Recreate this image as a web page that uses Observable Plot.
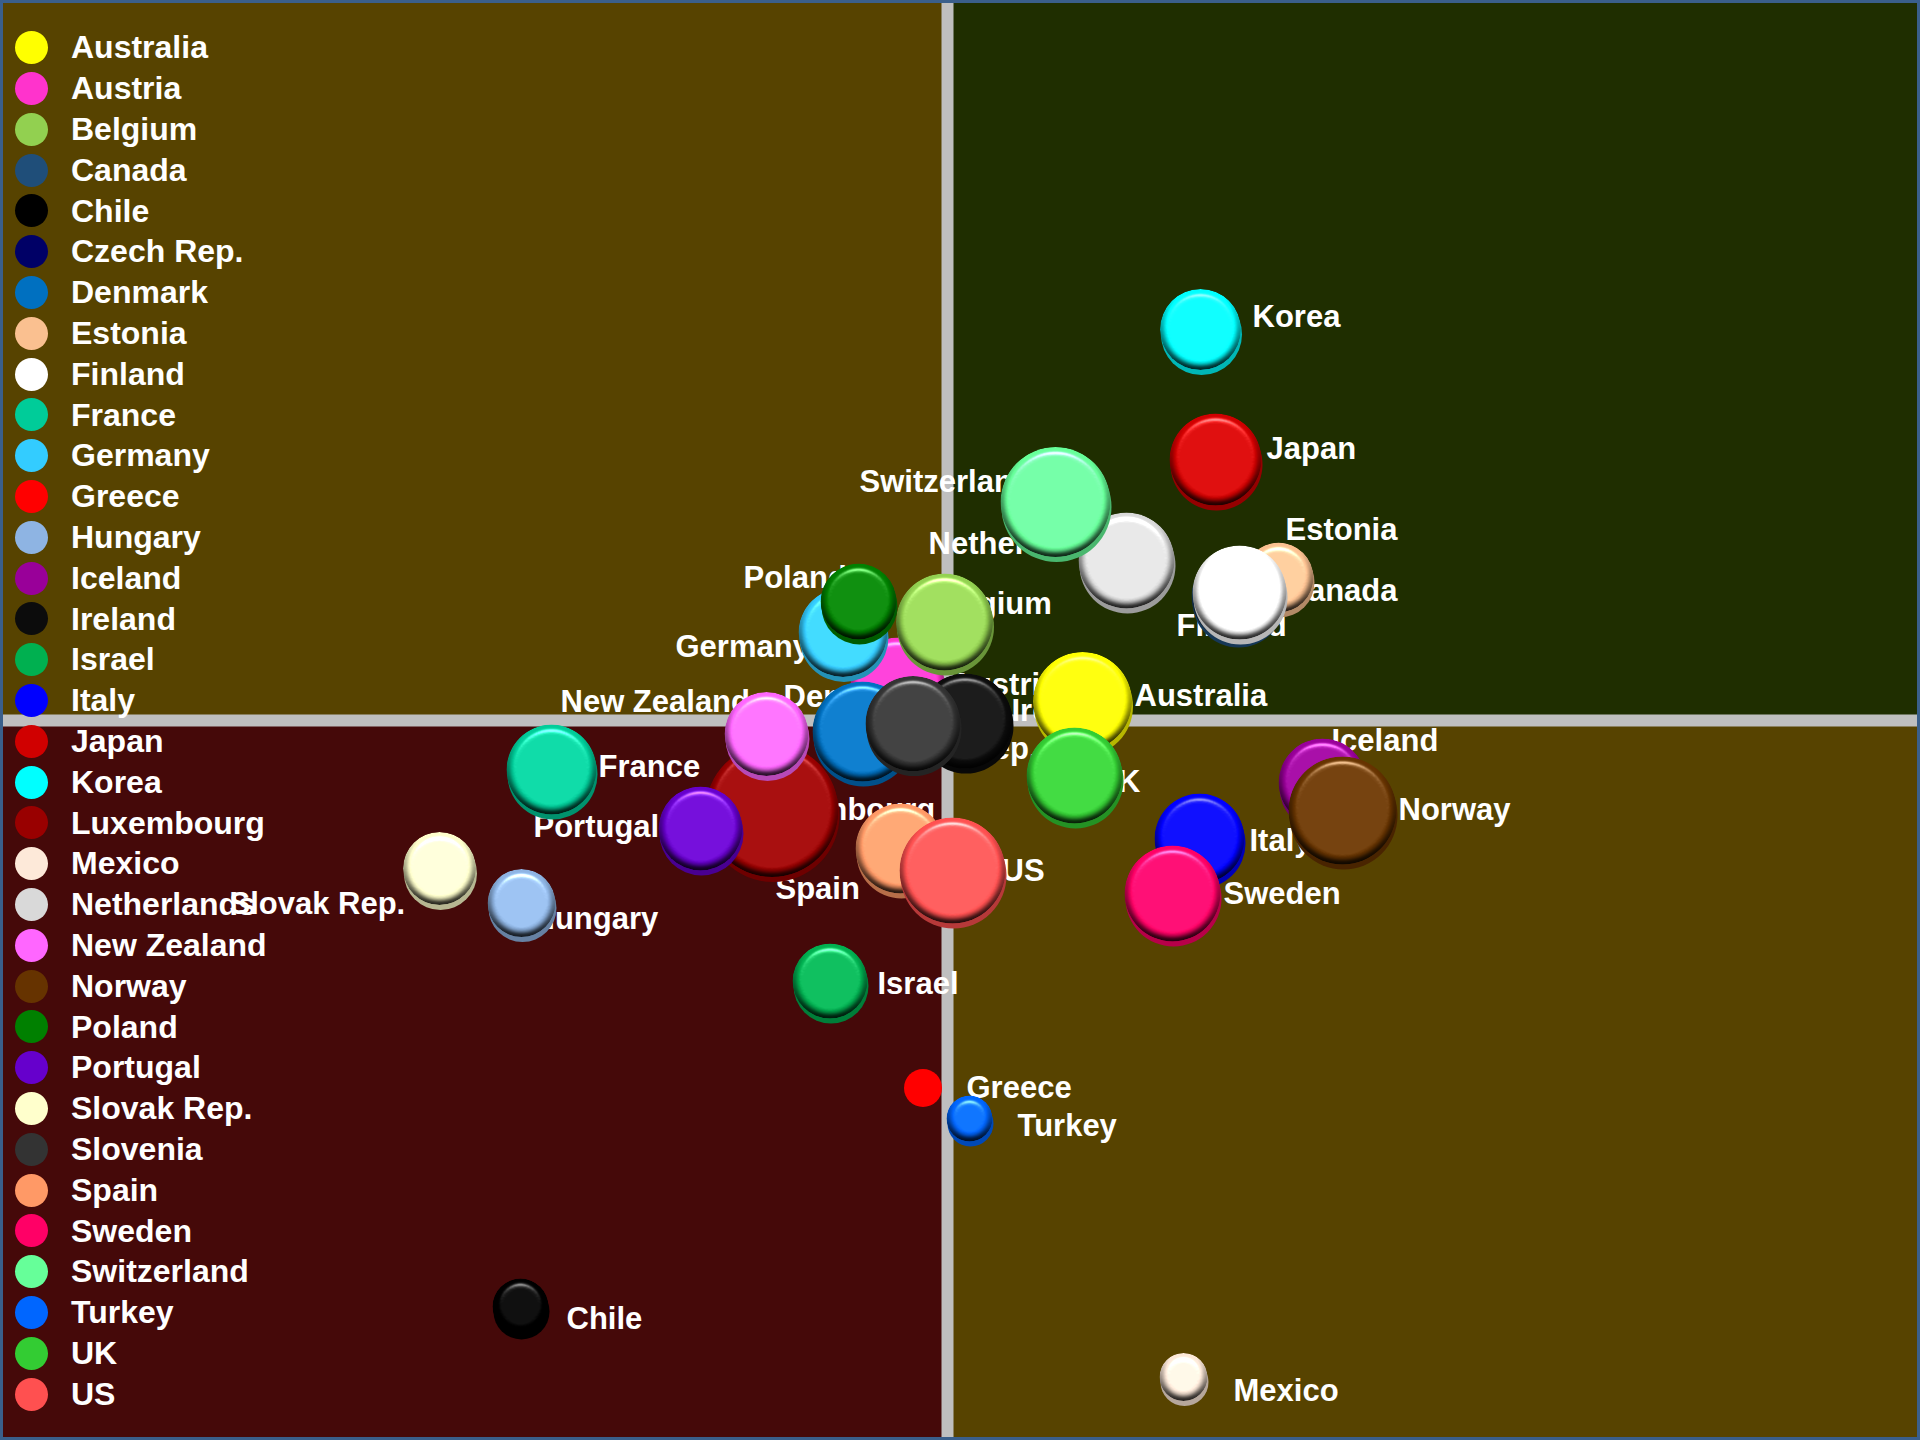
<!DOCTYPE html>
<html>
<head>
<meta charset="utf-8">
<script src="https://cdn.jsdelivr.net/npm/d3@7"></script>
<script src="https://cdn.jsdelivr.net/npm/@observablehq/plot@0.6"></script>
<style>
  html, body { margin: 0; padding: 0; background: #3a5f8b; }
  #wrap { position: relative; width: 1920px; height: 1440px; overflow: hidden; }
  #wrap svg { display: block; }
  #legend { position: absolute; left: 0; top: 0; font-family: "Liberation Sans", Arial, sans-serif; font-weight: bold; font-size: 32px; color: #fff; }
  .item { position: absolute; left: 0; height: 40.8px; width: 400px; }
  .sw { position: absolute; left: 14.5px; top: 3.9px; width: 33px; height: 33px; border-radius: 50%; }
  .lab { position: absolute; left: 71px; top: 0; line-height: 40.8px; white-space: nowrap; }
</style>
</head>
<body>
<div id="wrap"></div>
<script>
// ---- data ----
const countries = ["Australia","Austria","Belgium","Canada","Chile","Czech Rep.","Denmark","Estonia","Finland","France","Germany","Greece","Hungary","Iceland","Ireland","Israel","Italy","Japan","Korea","Luxembourg","Mexico","Netherlands","New Zealand","Norway","Poland","Portugal","Slovak Rep.","Slovenia","Spain","Sweden","Switzerland","Turkey","UK","US"];
const colors = ["#ffff00","#ff33cc","#92d050","#1f4e79","#000000","#000066","#0070c0","#fac090","#ffffff","#00cc99","#33ccff","#ff0000","#8eb4e3","#990099","#0c0c0c","#00b050","#0000ff","#d00000","#00ffff","#990000","#fde9d9","#d9d9d9","#ff66ff","#663300","#008000","#6600cc","#ffffcc","#333333","#ff9966","#ff0066","#66ff99","#0066ff","#33cc33","#ff5050"];
// horizontal / vertical index values (0 = quadrant dividers)
const xVals = [13.5,-5.0,-0.3,29.0,-42.7,-0.9,-8.5,33.1,29.2,-39.6,-10.45,-2.45,-42.6,37.5,1.75,-11.75,25.2,26.8,25.3,-17.55,23.6,17.9,-18.1,39.5,-8.9,-24.7,-50.8,-3.45,-4.7,22.5,10.8,2.2,12.7,0.5];
const yVals = [1.9,3.6,9.85,12.4,-58.6,-0.2,-1.1,14.3,12.8,-4.9,8.8,-36.75,-18.25,-6.2,-0.05,-26.05,-11.8,26.1,39.1,-9.0,-65.65,16.0,-1.35,-9.0,11.9,-10.8,-14.8,-0.3,-12.8,-17.3,21.85,-39.8,-5.5,-15.0];
const sizes = [49.5,47,48.5,46,28,32,50,35,47,45,44.5,19,34,44,47.5,37.5,45,46,40.5,66.5,24,48,42,54,38,42,36.5,47.5,45,48,55,23,48,53];
// label anchor points (same units as xVals / yVals)
const labelX = [18.7,0.3,-1.8,33.8,-38.1,-7.7,-16.4,33.8,22.9,-34.9,-27.2,1.9,-41.5,38.4,6.4,-7.0,30.2,31.9,30.5,-20.0,28.6,-1.9,-38.7,45.1,-20.4,-41.4,-71.8,-6.5,-17.2,27.6,-8.8,7.0,14.8,5.4];
const labelY = [2.4,3.5,11.6,12.9,-59.9,-2.9,2.3,19.0,9.4,-4.7,7.3,-36.8,-19.9,-2.1,0.9,-26.4,-12.1,27.1,40.3,-9.0,-67.1,17.6,1.8,-9.0,14.2,-10.7,-18.4,-0.7,-16.9,-17.4,23.8,-40.6,-6.2,-15.1];
const quadrantNames = ["top-left","top-right","bottom-left","bottom-right"];
const quadrantColors = ["#574300","#1f2e00","#450909","#574300"];
const flatCountries = ["Greece"];

const xDomain = [-94.4, 97.0];
const yDomain = [-71.7, 71.7];

const data = countries.map((c, i) => ({country: c, color: colors[i], x: xVals[i], y: yVals[i], size: sizes[i], lx: labelX[i], ly: labelY[i]}));
const quadrants = quadrantNames.map((q, i) => ({
  name: q,
  x1: q.endsWith("left") ? xDomain[0] : 0,
  x2: q.endsWith("left") ? 0 : xDomain[1],
  y1: q.startsWith("top") ? 0 : yDomain[0],
  y2: q.startsWith("top") ? yDomain[1] : 0,
  fill: quadrantColors[i]
}));

const chart = Plot.plot({
  width: 1920,
  height: 1440,
  margin: 3,
  x: {domain: xDomain, axis: null},
  y: {domain: yDomain, axis: null},
  r: {type: "linear", domain: [0, 70], range: [0, 70]},
  color: {type: "identity"},
  style: {background: "#3a5f8b", fontFamily: "'Liberation Sans', Arial, sans-serif"},
  marks: [
    Plot.rect(quadrants, {x1: "x1", x2: "x2", y1: "y1", y2: "y2", fill: "fill", inset: 0}),
    Plot.ruleX([0], {stroke: "#bfbfbf", strokeWidth: 12}),
    Plot.ruleY([0], {stroke: "#bfbfbf", strokeWidth: 12}),
    Plot.text(data, {x: "lx", y: "ly", text: "country", textAnchor: "start", lineAnchor: "middle", fill: "#ffffff", fontSize: 31, fontWeight: "bold"}),
    Plot.dot(data, {x: "x", y: "y", r: "size", fill: "color", stroke: "none", sort: null})
  ]
});

document.getElementById("wrap").appendChild(chart);

// 3D "button" look for the bubbles
d3.select(chart).insert("defs", ":first-child").html(`
  <filter id="bubble3d" x="-25%" y="-25%" width="150%" height="165%" color-interpolation-filters="sRGB">
    <feOffset in="SourceGraphic" dx="1" dy="5" result="off"/>
    <feComponentTransfer in="off" result="edge">
      <feFuncR type="linear" slope="0.72"/><feFuncG type="linear" slope="0.72"/><feFuncB type="linear" slope="0.72"/>
    </feComponentTransfer>
    <feGaussianBlur in="SourceAlpha" stdDeviation="3.5" result="blur"/>
    <feDiffuseLighting in="blur" surfaceScale="6" diffuseConstant="1.16" lighting-color="#ffffff" result="diff">
      <feDistantLight azimuth="270" elevation="60"/>
    </feDiffuseLighting>
    <feComposite in="SourceGraphic" in2="diff" operator="arithmetic" k1="1" k2="0" k3="0" k4="0" result="shaded"/>
    <feSpecularLighting in="blur" surfaceScale="6" specularConstant="0.8" specularExponent="35" lighting-color="#ffffff" result="spec">
      <feDistantLight azimuth="270" elevation="50"/>
    </feSpecularLighting>
    <feComposite in="spec" in2="SourceAlpha" operator="in" result="specIn"/>
    <feComposite in="shaded" in2="specIn" operator="arithmetic" k1="0" k2="1" k3="0.7" k4="0" result="lit"/>
    <feComposite in="lit" in2="SourceAlpha" operator="in" result="litIn"/>
    <feMerge><feMergeNode in="edge"/><feMergeNode in="litIn"/></feMerge>
  </filter>`);

d3.select(chart).selectAll('g[aria-label="dot"] circle').each(function(_, j) {
  if (!flatCountries.includes(countries[j])) this.setAttribute("filter", "url(#bubble3d)");
});

// legend (top-left overlay)
const legend = d3.select("#wrap").append("div").attr("id", "legend");
countries.forEach((c, i) => {
  const item = legend.append("div").attr("class", "item").style("top", (27.4 + i * 40.8) + "px");
  item.append("span").attr("class", "sw").style("background", colors[i]);
  item.append("span").attr("class", "lab").text(c);
});
</script>
</body>
</html>
